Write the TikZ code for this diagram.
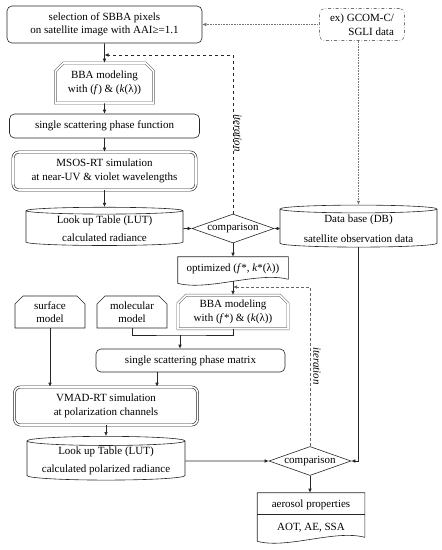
\documentclass[tikz,border=0pt]{standalone}
\usepackage{fontspec}
\setmainfont{Liberation Serif}
\usetikzlibrary{shapes.geometric,shapes.misc,arrows.meta}
\begin{document}
\begin{tikzpicture}
[x=1pt,y=-1pt,
  basenode/.style={font=\fontsize{11}{13.5}\selectfont,align=center,inner sep=1pt,line width=0.6pt,draw=black!85},%
  roundbox/.style={basenode,rounded corners=5pt},%
  doubleround/.style={basenode,rounded corners=6pt,double,double distance=1.6pt},%
  chambox/.style={basenode,chamfered rectangle,chamfered rectangle corners={north west,north east},
    chamfered rectangle xsep=4pt,chamfered rectangle ysep=4pt},%
  bbabox/.style={chambox,double,double distance=1.6pt,draw=black!60},%
  dbbox/.style={basenode,cylinder,shape border rotate=90,aspect=0.07},%
  decision/.style={basenode,diamond,aspect=2.8,inner sep=0pt},%
  docbox/.style={basenode,draw=none},%
  sourcebox/.style={basenode,rounded corners=5pt,dash dot,draw=black!55},%
  iterlabel/.style={font=\fontsize{11}{13.5}\selectfont\itshape,rotate=-90},%
  linkline/.style={-,line width=0.6pt,draw=black!85},%
  linkarrow/.style={linkline,-{Latex[length=4pt,width=3.5pt]}},%
  iterarrow/.style={linkarrow,dashed},%
  sourcearrow/.style={linkarrow,densely dotted,draw=black!55}]
\useasboundingbox (0,0) rectangle (442,550);
%% upper part
\node (sel) at (104.5,24.5) [roundbox,minimum width=195pt,minimum height=37pt]
  {selection of SBBA pixels\\on satellite image with AAI≥=1.1};
\node (gcom) at (362,24.5) [sourcebox,minimum width=85pt,minimum height=32pt,align=right]
  {ex) GCOM-C/\\SGLI data};
\node (bba1) at (104.5,83) [bbabox,minimum width=98pt,minimum height=40pt]
  {BBA modeling\\with (\textit{f}) \& (\textit{k}(λ))};
\node (sspf) at (104.5,126) [roundbox,minimum width=190pt,minimum height=24pt]
  {single scattering phase function};
\node (msos) at (104.5,171) [doubleround,minimum width=183pt,minimum height=38pt]
  {MSOS-RT simulation\\at near-UV \& violet wavelengths};
\node (lut1) at (104.5,228.5) [dbbox,minimum width=157pt,minimum height=38pt]
  {Look up Table (LUT)\\[5pt]calculated radiance};
\node (comp1) at (233,228.5) [decision,minimum width=82pt,minimum height=29pt] {comparison};
\node (db) at (358.5,228.5) [dbbox,minimum width=157pt,minimum height=42pt]
  {Data base (DB)\\[7pt]satellite observation data};
\node (opt) at (233,269) [docbox,minimum width=110pt,minimum height=24pt]
  {optimized (\textit{f}*, \textit{k}*(λ))};
\node (iter1) at (238,133) [iterlabel] {iteration};
%% lower part
\node (surf) at (50,312) [chambox,minimum width=70pt,minimum height=32pt] {surface\\model};
\node (mol) at (132,312) [chambox,minimum width=70pt,minimum height=32pt] {molecular\\model};
\node (bba2) at (233,312) [bbabox,minimum width=110pt,minimum height=32pt]
  {BBA modeling\\with (\textit{f}*) \& (\textit{k}(λ))};
\node (mat) at (190.5,360.5) [roundbox,minimum width=189pt,minimum height=23pt]
  {single scattering phase matrix};
\node (vmad) at (106,406) [doubleround,minimum width=183pt,minimum height=38pt]
  {VMAD-RT simulation\\at polarization channels};
\node (lut2) at (106,461) [dbbox,minimum width=158pt,minimum height=40pt]
  {Look up Table (LUT)\\[5pt]calculated polarized radiance};
\node (comp2) at (310,461) [decision,minimum width=82pt,minimum height=29pt] {comparison};
\node (aer) at (311,516) [docbox,minimum width=107pt,minimum height=46pt]
  {aerosol properties\\[9pt]AOT, AE, SSA};
\node (iter2) at (317,366) [iterlabel] {iteration};
%% document outlines with wavy bottom
\foreach \docname in {opt, aer} {
  \draw[linkline] ([yshift=2pt]\docname.south east) -- (\docname.north east)
    -- (\docname.north west) -- ([yshift=-2pt]\docname.south west)
    .. controls +(30,8) and +(-30,-8) .. ([yshift=2pt]\docname.south east);
}
\draw[linkline] ([yshift=2pt]aer.west) -- ([yshift=2pt]aer.east);
%% edges or lines
\path
\foreach \startnode/\endnode in {sel/bba1, bba1/sspf, sspf/msos, msos/lut1, lut1/comp1,
  db/comp1, comp1/opt, opt/bba2, vmad/lut2, lut2/comp2} {
  (\startnode) edge[linkarrow] (\endnode)
};
\coordinate (iterjoin1) at (104.5,55);
\coordinate (iterjoin2) at (233,287);
\coordinate (merge) at (180,335);
\draw[iterarrow] (comp1.north) |- (iterjoin1);
\draw[iterarrow,densely dashed,draw=black!60] (comp2.north) |- (iterjoin2);
\draw[sourcearrow] (gcom.west) -- (sel.east);
\draw[sourcearrow] (db.north |- gcom.south) -- (db.north);
\draw[linkline] (mol.south) |- (merge) -| (bba2.south);
\draw[linkarrow] (merge) -- (merge |- mat.north);
\draw[linkarrow] (surf.south) -- (surf.south |- vmad.north);
\draw[linkarrow] ([xshift=-33.5pt]mat.south) -- ([xshift=-33.5pt]mat.south |- vmad.north);
\draw[linkarrow] (db.south) |- (comp2.east);
\draw[linkarrow] (comp2.south) -- (comp2.south |- aer.north);
\end{tikzpicture}
\end{document}
